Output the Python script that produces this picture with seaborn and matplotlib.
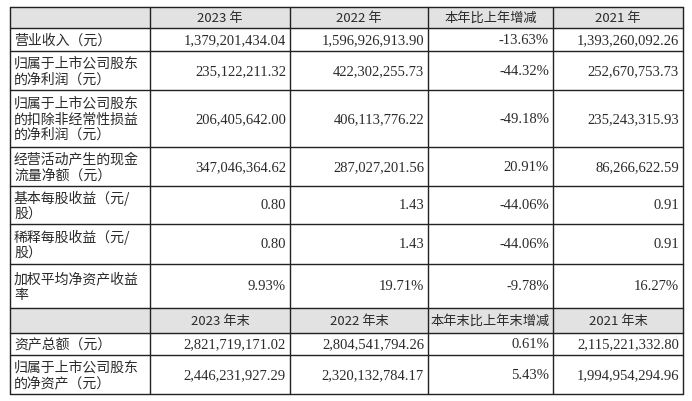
import matplotlib
matplotlib.use("Agg")
import matplotlib.pyplot as plt
import seaborn as sns

sns.set_theme(style="white")

# dados da tabela
cabecalho_1 = ["", "2023 年", "2022 年", "本年比上年增减", "2021 年"]
cabecalho_2 = ["", "2023 年末", "2022 年末", "本年末比上年末增减", "2021 年末"]
itens_1 = ["营业收入（元）", "归属于上市公司股东\n的净利润（元）",
           "归属于上市公司股东\n的扣除非经常性损益\n的净利润（元）",
           "经营活动产生的现金\n流量净额（元）", "基本每股收益（元/\n股）",
           "稀释每股收益（元/\n股）", "加权平均净资产收益\n率"]
valores_2023 = ["1,379,201,434.04", "235,122,211.32", "206,405,642.00",
                "347,046,364.62", "0.80", "0.80", "9.93%"]
valores_2022 = ["1,596,926,913.90", "422,302,255.73", "406,113,776.22",
                "287,027,201.56", "1.43", "1.43", "19.71%"]
variacao = ["-13.63%", "-44.32%", "-49.18%", "20.91%", "-44.06%", "-44.06%", "-9.78%"]
valores_2021 = ["1,393,260,092.26", "252,670,753.73", "235,243,315.93",
                "86,266,622.59", "0.91", "0.91", "16.27%"]
itens_2 = ["资产总额（元）", "归属于上市公司股东\n的净资产（元）"]
fim_2023 = ["2,821,719,171.02", "2,446,231,927.29"]
fim_2022 = ["2,804,541,794.26", "2,320,132,784.17"]
variacao_fim = ["0.61%", "5.43%"]
fim_2021 = ["2,115,221,332.80", "1,994,954,294.96"]

colunas = [10, 150, 290, 428, 553, 683]
linhas = [8, 29, 52, 91, 148, 187, 225, 265, 309, 334, 356, 395]

CJK = "Noto Sans CJK SC"
SERIF = "Liberation Serif"

fig = plt.figure(figsize=(6.92, 4.02), dpi=100)
ax = fig.add_axes([0, 0, 1, 1])
ax.set_xlim(0, 692)
ax.set_ylim(402, 0)
ax.axis("off")

linhas_tabela = [cabecalho_1]
for i in range(len(itens_1)):
    linhas_tabela.append([itens_1[i], valores_2023[i], valores_2022[i], variacao[i], valores_2021[i]])
linhas_tabela.append(cabecalho_2)
for i in range(len(itens_2)):
    linhas_tabela.append([itens_2[i], fim_2023[i], fim_2022[i], variacao_fim[i], fim_2021[i]])

cor_texto = "#2a2a2a"
for r, linha in enumerate(linhas_tabela):
    y0, y1 = linhas[r], linhas[r + 1]
    ym = (y0 + y1) / 2
    eh_cabecalho = linha[0] == "" and r in (0, 8)
    for c, txt in enumerate(linha):
        x0, x1 = colunas[c], colunas[c + 1]
        if eh_cabecalho:
            ax.add_patch(plt.Rectangle((x0, y0), x1 - x0, y1 - y0, color="#e2e2e2", zorder=0))
            ax.text((x0 + x1) / 2, ym, txt, ha="center", va="center",
                    fontsize=9.5, family=CJK, color=cor_texto)
        elif c == 0:
            ax.text(x0 + 4, ym, txt, ha="left", va="center", fontsize=10,
                    family=CJK, color=cor_texto, linespacing=1.15)
        else:
            ax.text(x1 - 4, ym, txt, ha="right", va="center", fontsize=10.5,
                    family=SERIF, color=cor_texto)

for y in linhas:
    ax.plot([colunas[0], colunas[-1]], [y, y], color="#222222", lw=1.0)
for x in colunas:
    ax.plot([x, x], [linhas[0], linhas[-1]], color="#222222", lw=1.0)

fig.savefig("out.png", dpi=100)
